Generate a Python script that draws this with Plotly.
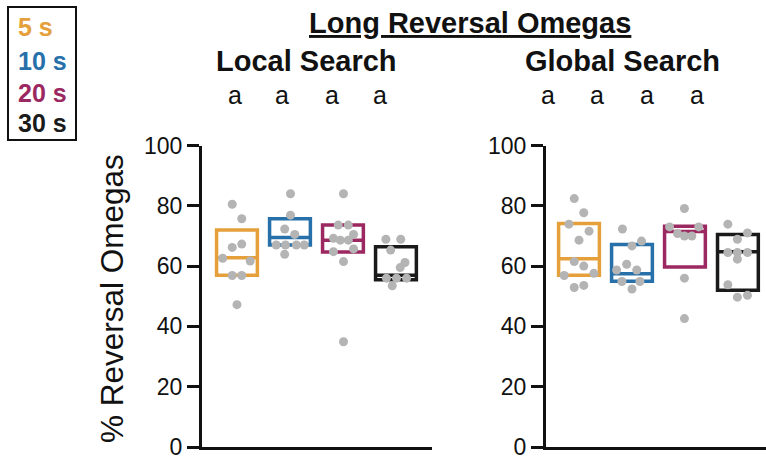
import plotly.graph_objects as go

W, H = 766, 459
FONT = "Liberation Sans, Arial, Helvetica, sans-serif"

# group labels and colours
groups = ["5 s", "10 s", "20 s", "30 s"]
colors = ["#E5A03B", "#2770AA", "#9B2860", "#1A1A1A"]
panels = ["Local Search", "Global Search"]
sig_letters = [["a", "a", "a", "a"], ["a", "a", "a", "a"]]

# box summaries (q1, median, q3) per panel
local_q1 = [57.0, 67.0, 64.7, 55.5]
local_med = [62.8, 69.5, 68.6, 57.0]
local_q3 = [72.0, 75.7, 73.6, 66.4]
global_q1 = [57.0, 55.0, 59.7, 52.0]
global_med = [62.4, 57.5, 71.5, 64.8]
global_q3 = [74.1, 67.2, 73.2, 70.5]

# individual animals (% reversal omegas)
local_vals = [
    [80.5, 75.7, 66.2, 67.3, 62.6, 61.7, 56.9, 56.9, 47.2],
    [84.0, 76.9, 72.3, 70.5, 67.0, 67.0, 67.0, 67.0, 63.9],
    [84.0, 73.6, 73.6, 69.2, 68.6, 68.6, 70.5, 64.8, 65.7, 61.5, 34.9],
    [68.9, 68.9, 65.3, 61.2, 59.5, 56.0, 56.0, 56.0, 53.5],
]
global_vals = [
    [82.4, 77.7, 73.9, 71.6, 68.6, 61.5, 60.0, 56.9, 57.6, 52.9, 53.6],
    [72.3, 68.3, 66.7, 60.6, 58.7, 58.7, 54.9, 54.9, 52.4],
    [79.1, 73.0, 73.0, 70.8, 70.0, 70.0, 56.0, 42.6],
    [73.9, 71.0, 68.9, 64.5, 64.5, 64.5, 62.3, 53.8, 49.7, 50.3],
]
# horizontal spread of the dots within each group
local_jit = [
    [-0.09, 0.09, -0.09, 0.09, -0.27, 0.25, -0.09, 0.09, 0.0],
    [0.01, 0.01, -0.10, 0.09, -0.26, -0.085, 0.12, 0.27, -0.10],
    [0.01, -0.09, 0.10, -0.18, -0.05, 0.10, 0.20, -0.18, 0.20, 0.01, 0.01],
    [-0.19, 0.09, -0.10, 0.17, 0.08, -0.18, 0.01, 0.20, -0.07],
]
global_jit = [
    [-0.09, 0.09, -0.19, 0.19, 0.0, -0.09, 0.09, -0.28, 0.28, -0.09, 0.09],
    [-0.18, 0.18, 0.0, -0.10, 0.09, -0.29, -0.19, 0.15, 0.0],
    [-0.01, -0.29, 0.26, -0.14, -0.01, 0.13, -0.01, -0.01],
    [-0.19, 0.18, -0.01, -0.19, -0.01, 0.18, -0.01, -0.19, -0.01, 0.18],
]
y_ticks = [0, 20, 40, 60, 80, 100]


def px(x):
    return x / W


def py(y):
    return 1 - y / H


fig = go.Figure()

panel_data = [
    ("x", "y", local_q1, local_med, local_q3, local_vals, local_jit),
    ("x2", "y2", global_q1, global_med, global_q3, global_vals, global_jit),
]
for xa, ya, q1s, meds, q3s, vals, jits in panel_data:
    for i, g in enumerate(groups):
        pos = i + 1
        fig.add_trace(go.Box(
            x=[pos], q1=[q1s[i]], median=[meds[i]], q3=[q3s[i]],
            lowerfence=[q1s[i]], upperfence=[q3s[i]],
            width=0.77, whiskerwidth=0, boxpoints=False,
            line=dict(color=colors[i], width=3.5),
            fillcolor="rgba(255,255,255,0)",
            xaxis=xa, yaxis=ya, showlegend=False, name=g,
        ))
    for i, g in enumerate(groups):
        pos = i + 1
        fig.add_trace(go.Scatter(
            x=[pos + j for j in jits[i]], y=vals[i], mode="markers",
            marker=dict(color="#B4B4B4", size=9),
            xaxis=xa, yaxis=ya, showlegend=False, name=g,
        ))

y_bottom, y_top = 447.0, 145.5
axis_common = dict(showgrid=False, zeroline=False, showline=True,
                   linecolor="#111", linewidth=3, automargin=False)
yaxis_common = dict(range=[0, 100], tickvals=y_ticks, ticks="outside", ticklen=12,
                    tickwidth=3, tickcolor="#111", ticklabeloverflow="allow",
                    tickfont=dict(size=23, family=FONT, color="#111"))
fig.update_layout(
    width=W, height=H,
    margin=dict(l=0, r=0, t=0, b=0, pad=0, autoexpand=False),
    paper_bgcolor="white", plot_bgcolor="white",
    font=dict(family=FONT, color="#111"),
    showlegend=False,
    xaxis=dict(domain=[px(202), px(432)], range=[0.34, 4.68],
               showticklabels=False, ticks="", anchor="y", **axis_common),
    yaxis=dict(domain=[py(y_bottom), py(y_top)], anchor="x",
               **yaxis_common, **axis_common),
    xaxis2=dict(domain=[px(546), 1.0], range=[0.377, 4.53],
                showticklabels=False, ticks="", anchor="y2", **axis_common),
    yaxis2=dict(domain=[py(y_bottom), py(y_top)], anchor="x2",
                **yaxis_common, **axis_common),
)

ann = []
# overall title
ann.append(dict(x=px(470), y=py(23), text="Long Reversal Omegas",
                font=dict(size=29, family=FONT, weight="bold", lineposition="under",
                          color="#111")))
# panel titles
for name, cx in zip(panels, [306, 622]):
    ann.append(dict(x=px(cx), y=py(61), text=name,
                    font=dict(size=29, family=FONT, weight="bold", color="#111")))
# significance letters
for letters, xs in zip(sig_letters, [[235, 282, 332, 380], [548, 597, 647, 697]]):
    for t, cx in zip(letters, xs):
        ann.append(dict(x=px(cx), y=py(95), text=t,
                        font=dict(size=25, family=FONT, color="#111")))
# y axis title
ann.append(dict(x=px(111.5), y=py(298.5), text="% Reversal Omegas", textangle=-90,
                font=dict(size=31.5, family=FONT, color="#111")))
# group key
for g, c, cy in zip(groups, colors, [27, 61, 92.5, 123]):
    ann.append(dict(x=px(16), y=py(cy), text=g, xanchor="left",
                    font=dict(size=25, family=FONT, weight="bold", color=c)))
for a in ann:
    a.setdefault("xanchor", "center")
    a.update(xref="paper", yref="paper", yanchor="middle", showarrow=False)
fig.update_layout(annotations=ann)

fig.add_shape(type="rect", xref="paper", yref="paper",
              x0=px(8), x1=px(76), y0=py(140), y1=py(7),
              line=dict(color="#111", width=2))

fig.write_html("out.html")
